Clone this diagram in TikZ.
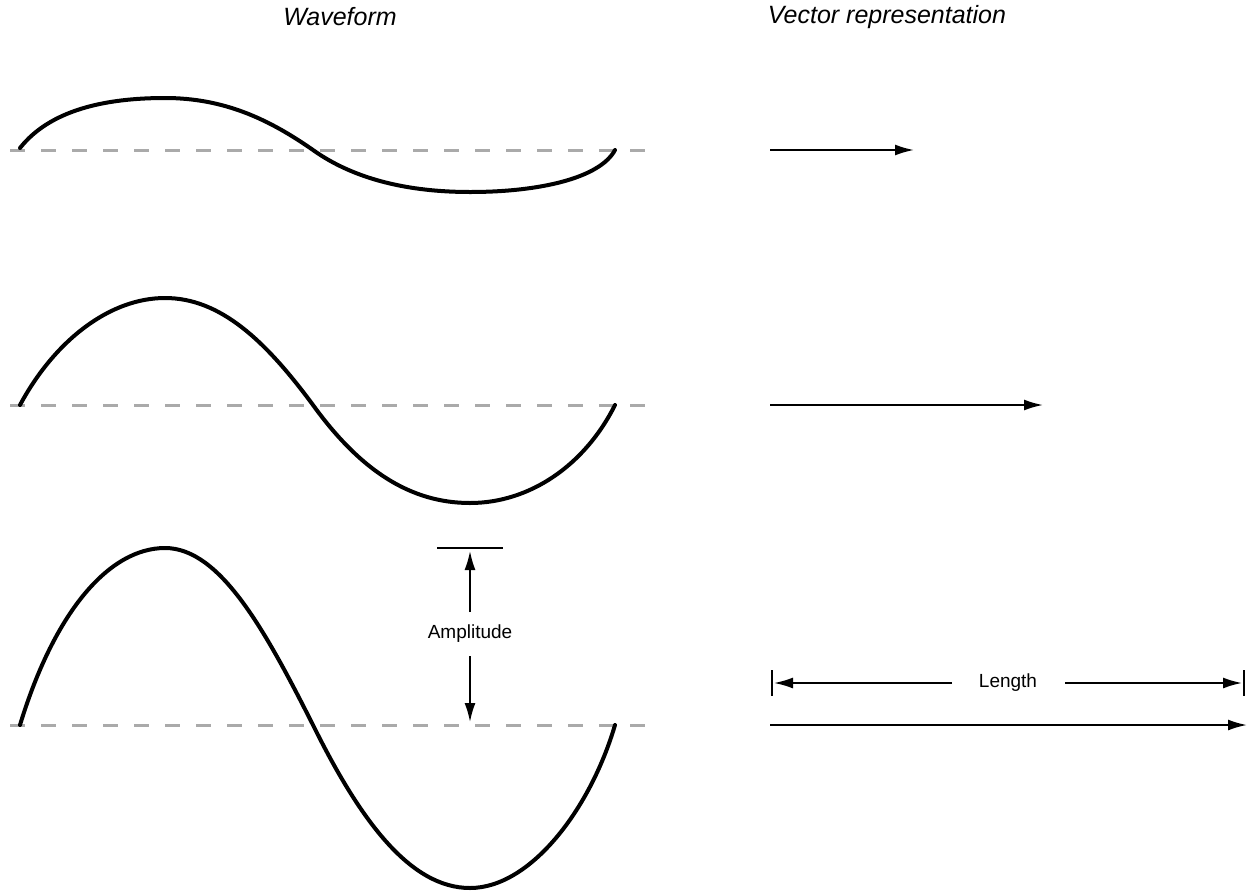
\documentclass[tikz,border=0pt]{standalone}
\usepackage{fontspec}
\setmainfont{Liberation Sans}
\usetikzlibrary{arrows.meta}
\definecolor{dashgray}{HTML}{AAAAAA}
\tikzset{
  wave/.style={line width=4pt, line cap=round},
  axis/.style={dashgray, line width=3pt, dash pattern=on 15pt off 16pt},
  vec/.style={line width=2pt, -{Latex[length=19pt,width=11pt]}},
  dimarrow/.style={line width=1.8pt, -{Latex[length=19pt,width=11pt]}},
  title/.style={font=\fontsize{25pt}{30pt}\selectfont\itshape},
  label/.style={font=\fontsize{19pt}{23pt}\selectfont, inner sep=0pt},
}
\begin{document}
\begin{tikzpicture}[x=1pt,y=-1pt]
\useasboundingbox (0,0) rectangle (1248,892);
\fill[white] (0,0) rectangle (1248,892);

% titles
\node[title] (t1) at (340,17) {Waveform};
\node[title] (t2) at (887,17) {Vector representation};

% axes
\draw[axis] (10,150) -- (645,150);
\draw[axis] (10,405) -- (645,405);
\draw[axis] (10,725) -- (645,725);

% wave 1
\draw[wave] (20,148) .. controls (50,110) and (105,98) .. (165,98)
  .. controls (225,98) and (270,120) .. (313,150)
  .. controls (355,180) and (410,192) .. (470,192)
  .. controls (540,192) and (600,178) .. (615,150);
% wave 2
\draw[wave] (20,405) .. controls (55,340) and (110,298) .. (165,298)
  .. controls (220,298) and (265,340) .. (313,405)
  .. controls (360,470) and (410,503) .. (470,503)
  .. controls (530,503) and (585,465) .. (615,405);
% wave 3
\draw[wave] (20,725) .. controls (55,610) and (110,548) .. (165,548)
  .. controls (220,548) and (265,630) .. (313,725)
  .. controls (360,820) and (410,888) .. (470,888)
  .. controls (530,888) and (590,810) .. (615,725);

% amplitude
\coordinate (abarL) at (437,548);
\coordinate (abarR) at (503,548);
\draw[line width=2.4pt] (abarL) -- (abarR);
\node[label] (amp) at (470,634) {Amplitude};
\coordinate (atop) at (470,551);
\coordinate (abot) at (470,722);
\draw[dimarrow] (470,612) -- (atop);
\draw[dimarrow] (470,656) -- (abot);

% vectors
\coordinate (v1s) at (770,150); \coordinate (v1e) at (914,150);
\coordinate (v2s) at (770,405); \coordinate (v2e) at (1043,405);
\coordinate (v3s) at (770,725); \coordinate (v3e) at (1247,725);
\draw[vec] (v1s) -- (v1e);
\draw[vec] (v2s) -- (v2e);
\draw[vec] (v3s) -- (v3e);

% length dimension
\coordinate (lbL1) at (772,670); \coordinate (lbL2) at (772,696);
\coordinate (lbR1) at (1244,670); \coordinate (lbR2) at (1244,696);
\draw[line width=2.4pt] (lbL1) -- (lbL2);
\draw[line width=2.4pt] (lbR1) -- (lbR2);
\node[label] (len) at (1008,683) {Length};
\draw[dimarrow] (952,683) -- (774,683);
\draw[dimarrow] (1065,683) -- (1242,683);
\end{tikzpicture}
\end{document}
